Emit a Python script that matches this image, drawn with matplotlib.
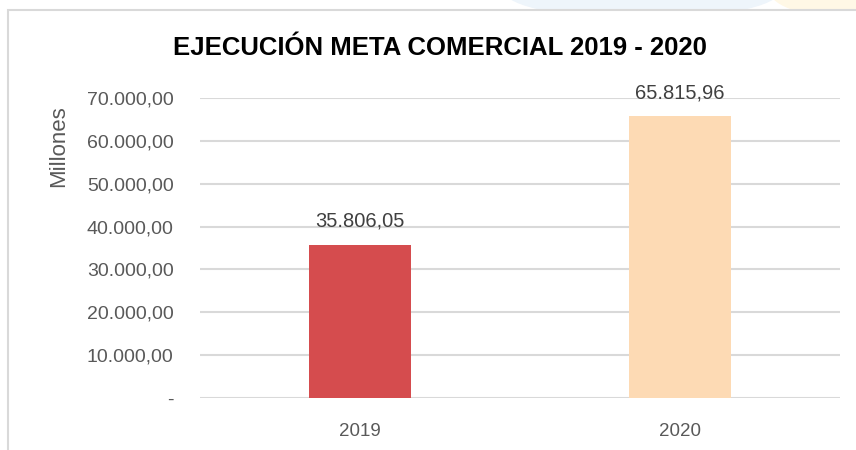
import matplotlib.pyplot as plt
from matplotlib.patches import Rectangle, Ellipse
from matplotlib.ticker import FuncFormatter

years = ['2019', '2020']
values = [35806.05, 65815.96]
colors = ['#D54C4E', '#FDDAB4']
yticks = [0, 10000, 20000, 30000, 40000, 50000, 60000, 70000]

plt.rcParams['font.family'] = ['Liberation Sans', 'DejaVu Sans']


def fmt_es(v, pos=None):
    if v == 0:
        return '-'
    s = f'{v:,.2f}'
    return s.replace(',', 'X').replace('.', ',').replace('X', '.')


fig = plt.figure(figsize=(8.56, 4.5), dpi=100)

# faint background shapes at the top
fig.patches.append(Ellipse((0.75, 1.02), 0.32, 0.12, transform=fig.transFigure,
                           color='#EEF5FB', zorder=-2))
fig.patches.append(Ellipse((1.0, 1.02), 0.2, 0.12, transform=fig.transFigure,
                           color='#FFF8E6', zorder=-2))
# chart frame
fig.patches.append(Rectangle((8 / 856, -0.1), 1.0, 1 - 10 / 450 + 0.1,
                             transform=fig.transFigure, facecolor='white',
                             edgecolor='#D9D9D9', linewidth=1.5, zorder=-1))

ax = fig.add_axes([200 / 856, 1 - 398 / 450, 640 / 856, 300 / 450])
ax.set_facecolor('none')
bars = ax.bar(years, values, width=0.316, color=colors, zorder=2)
ax.set_xlim(-0.5, 1.5)
ax.set_ylim(0, 70000)
ax.set_yticks(yticks)
ax.yaxis.set_major_formatter(FuncFormatter(fmt_es))
ax.grid(axis='y', color='#D9D9D9', linewidth=1.5, zorder=0)
for s in ax.spines.values():
    s.set_visible(False)
ax.tick_params(length=0, labelsize=14, labelcolor='#595959')
ax.tick_params(axis='y', pad=19)
ax.tick_params(axis='x', labelsize=13.5, pad=18)

for b, v in zip(bars, values):
    ax.text(b.get_x() + b.get_width() / 2, v + 3200, fmt_es(v),
            ha='center', va='bottom', fontsize=14.5, color='#404040')

ax.set_ylabel('Millones', fontsize=16, color='#595959')
ax.yaxis.set_label_coords(-0.205, 0.84)

fig.text(440 / 856, 1 - 48 / 450, 'EJECUCIÓN META COMERCIAL 2019 - 2020',
         ha='center', va='center', fontsize=18.5, fontweight='bold', color='black')

fig.savefig('out.png', dpi=100)
